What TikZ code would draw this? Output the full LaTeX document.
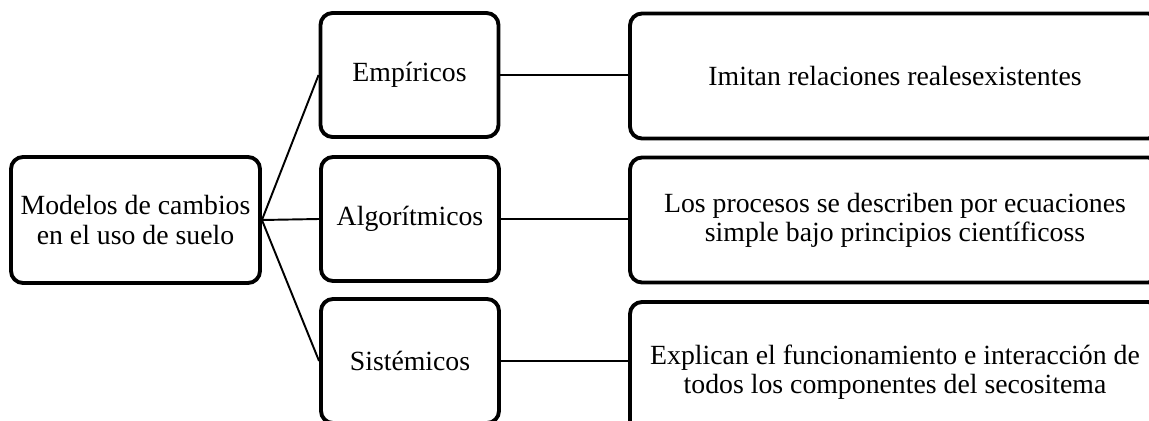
\documentclass[tikz,border=0pt]{standalone}
\usepackage{fontspec}
\setmainfont{Liberation Serif}
\usepackage{tikz}

\begin{document}
\begin{tikzpicture}[
	caja/.style={draw, line width=2.2pt, rounded corners=0.24cm, align=center,
		font=\fontsize{15.8}{16.6}\selectfont},
	rama/.style={line width=1.1pt}]
	%\draw[help lines] (0,0) grid (23,8.4);
	\useasboundingbox (0,0) rectangle (22.98,8.4);
	\clip (0,0) rectangle (22.98,8.4);
	\node[caja, minimum width=4.98cm, minimum height=2.52cm] (modelos) at (2.71,4.0) {Modelos de cambios\\en el uso de suelo};
	\node[caja, minimum width=3.56cm, minimum height=2.48cm] (emp) at (8.19,6.9) {Empíricos};
	\node[caja, minimum width=3.56cm, minimum height=2.48cm] (alg) at (8.2,4.02) {Algorítmicos};
	\node[caja, minimum width=3.56cm, minimum height=2.48cm] (sis) at (8.2,1.18) {Sistémicos};
	\node[caja, minimum width=10.6cm, minimum height=2.5cm] (imitan) at (17.9,6.88) {Imitan relaciones realesexistentes};
	\node[caja, minimum width=10.6cm, minimum height=2.5cm] (procesos) at (17.9,4.0) {Los procesos se describen por ecuaciones\\simple bajo principios científicoss};
	\node[caja, minimum width=10.6cm, minimum height=2.8cm] (explican) at (17.9,0.96) {Explican el funcionamiento e interacción de\\todos los componentes del secositema};
	\draw[rama] (modelos.east) -- (emp.west);
	\draw[rama] (modelos.east) -- (alg.west);
	\draw[rama] (modelos.east) -- (sis.west);
	\draw[rama] (emp.east) -- (emp.east -| imitan.west);
	\draw[rama] (alg.east) -- (alg.east -| procesos.west);
	\draw[rama] (sis.east) -- (sis.east -| explican.west);
\end{tikzpicture}
\end{document}
